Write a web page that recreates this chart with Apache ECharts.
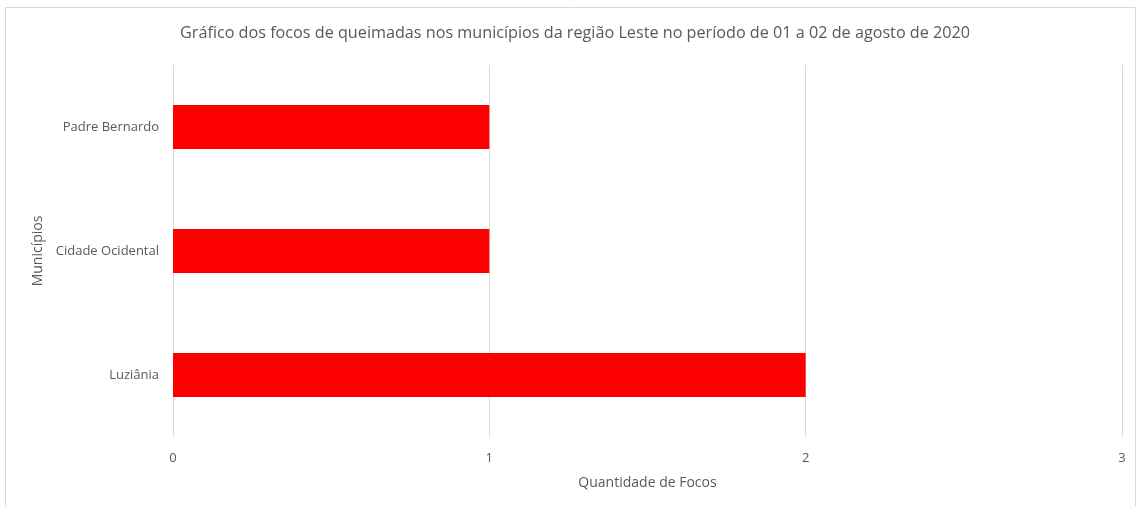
<!DOCTYPE html>
<html><head><meta charset="utf-8">
<script src="https://cdn.jsdelivr.net/npm/echarts@6/dist/echarts.min.js"></script>
<style>html,body{margin:0;padding:0;background:#fff}#c{width:1137px;height:506px}</style>
</head><body><div id="c"></div>
<script>
const categories = ["Luziânia", "Cidade Ocidental", "Padre Bernardo"];
const values = [2, 1, 1];
const titleText = "Gráfico dos focos de queimadas nos municípios da região Leste no período de 01 a 02 de agosto de 2020";
const xAxisName = "Quantidade de Focos";
const yAxisName = "Municípios";
const font = "'Open Sans', 'Liberation Sans', sans-serif";
const chart = echarts.init(document.getElementById('c'), null, {renderer: 'canvas'});
chart.setOption({
  animation: false,
  backgroundColor: '#fff',
  graphic: [{type: 'rect', shape: {x: 5.5, y: 7.5, width: 1130, height: 505}, style: {fill: 'none', stroke: '#d9d9d9', lineWidth: 1}, silent: true}],
  title: {text: titleText, left: 175, top: 20, textStyle: {fontFamily: font, fontSize: 16.2, fontWeight: 'normal', color: '#595959'}},
  grid: {left: 173, right: 15, top: 65, bottom: 69, containLabel: false},
  xAxis: {type: 'value', min: 0, max: 3, interval: 1,
    name: xAxisName, nameLocation: 'middle', nameGap: 39,
    nameTextStyle: {fontFamily: font, fontSize: 14, color: '#595959'},
    axisLine: {show: false}, axisTick: {show: false},
    axisLabel: {fontFamily: font, fontSize: 13, color: '#595959', margin: 15},
    splitLine: {show: true, lineStyle: {color: '#d9d9d9', width: 1}}},
  yAxis: {type: 'category', data: categories,
    name: yAxisName, nameLocation: 'middle', nameGap: 127, nameRotate: 90,
    nameTextStyle: {fontFamily: font, fontSize: 14, color: '#595959'},
    axisLine: {show: false}, axisTick: {show: false},
    axisLabel: {fontFamily: font, fontSize: 13, color: '#595959', margin: 14}},
  series: [{type: 'bar', data: values, barWidth: 44, itemStyle: {color: '#ff0000'}}]
});
</script></body></html>
